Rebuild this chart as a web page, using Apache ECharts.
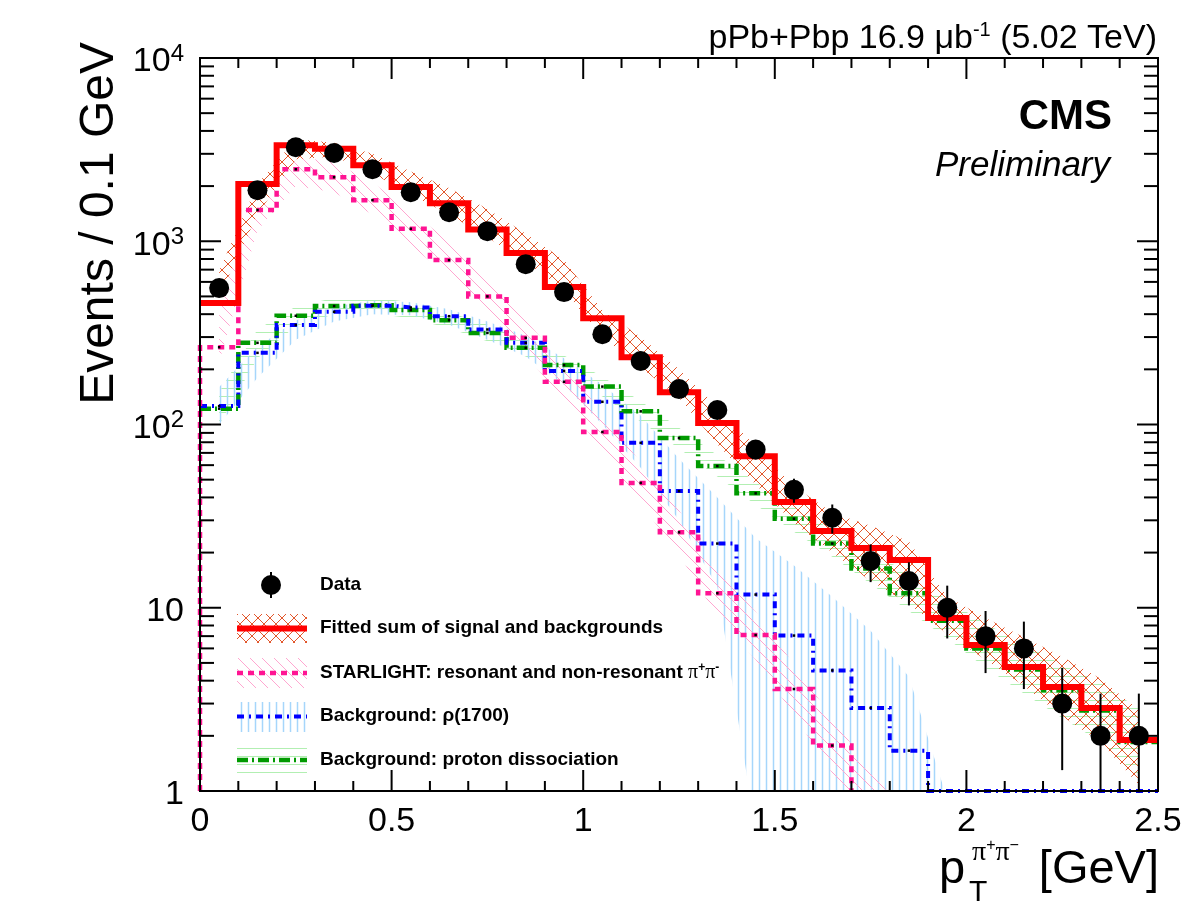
<!DOCTYPE html>
<html>
<head>
<meta charset="utf-8">
<title>pT spectrum of exclusive pi+pi- pairs</title>
<script src="https://cdn.jsdelivr.net/npm/echarts@6.0.0/dist/echarts.min.js"></script>
<style>
  html, body { margin: 0; padding: 0; background: #ffffff; }
  #chart { width: 1201px; height: 921px; }
</style>
</head>
<body>
<div id="chart"></div>
<script>
// ---- Histogram binning: 0.1 GeV bins from 0 to 2.5 GeV ----
const binCenters = [0.05, 0.15, 0.25, 0.35, 0.45, 0.55, 0.65, 0.75, 0.85, 0.95,
                    1.05, 1.15, 1.25, 1.35, 1.45, 1.55, 1.65, 1.75, 1.85, 1.95,
                    2.05, 2.15, 2.25, 2.35, 2.45];
const binWidth = 0.1;

// ---- Data: events per bin and statistical uncertainty ----
const dataCounts = [555, 1900, 3260, 3030, 2470, 1850, 1440, 1135, 750, 528,
                    311, 222, 156, 120, 73, 44, 31, 18, 14, 10,
                    7, 6, 3, 2, 2];
const dataErrors = [23.6, 43.6, 57.1, 55.0, 49.7, 43.0, 37.9, 33.7, 27.4, 23.0,
                    17.6, 14.9, 12.5, 11.0, 8.5, 6.6, 5.6, 4.2, 3.7, 3.2,
                    2.6, 2.4, 1.7, 1.4, 1.4];

// ---- Fitted sum of signal and backgrounds, with uncertainty band ----
const fitSum     = [460, 2050, 3345, 3200, 2600, 1975, 1610, 1160, 862, 563,
                    380, 233, 150, 102, 67, 37.8, 26.2, 21.2, 18.2, 8.8,
                    6.26, 4.75, 3.69, 2.84, 1.9];
const fitSumLow  = [500, 1400, 2800, 2900, 2350, 1800, 1400, 1050, 770, 540,
                    300, 205, 140, 78, 47, 29, 20, 14, 10.5, 7.2,
                    5.2, 3.75, 2.56, 1.85, 1.08];
const fitSumHigh = [690, 2050, 3600, 3450, 3000, 2400, 1950, 1500, 1100, 790,
                    420, 300, 200, 125, 76, 46, 33, 28, 23, 11.5,
                    8.8, 6.9, 5.4, 4.1, 2.77];

// ---- STARLIGHT resonant + non-resonant pi+pi- (0 = empty bin) ----
const starlight     = [264, 1480, 2470, 2235, 1676, 1170, 789, 500, 297, 171,
                       91, 48, 25.8, 12.0, 7.1, 3.6, 1.77, 0, 0, 0,
                       0, 0, 0, 0, 0];
const starlightLow  = [220, 1150, 2000, 1850, 1400, 950, 640, 400, 240, 135,
                       72, 37, 19.5, 9, 5.2, 2.6, 1.25, 0.6, 0.3, 0.15,
                       0.1, 0.05, 0.05, 0.05, 0.05];
const starlightHigh = [450, 1900, 2900, 2700, 2100, 1450, 1000, 620, 370, 215,
                       115, 62, 34, 16, 9.5, 4.9, 2.5, 1.3, 0.7, 0.35,
                       0.2, 0.1, 0.1, 0.1, 0.1];

// ---- Background: rho(1700) ----
const rho1700     = [126, 246, 349, 412, 445, 435, 390, 330, 279, 196,
                     133, 79.4, 43.3, 22.4, 11.8, 7.05, 4.55, 2.84, 1.66, 0.5,
                     0.4, 0.3, 0.2, 0.15, 0.1];
const rho1700Low  = [100, 180, 290, 365, 400, 395, 350, 290, 235, 165,
                     100, 58, 30, 13, 0.6, 0.3, 0.2, 0.15, 0.1, 0.08,
                     0.05, 0.05, 0.05, 0.05, 0.05];
const rho1700High = [160, 265, 370, 440, 475, 465, 425, 365, 305, 230,
                     165, 112, 65, 40, 24, 17, 11.5, 7.5, 4.2, 0.9,
                     0.5, 0.4, 0.3, 0.2, 0.15];

// ---- Background: proton dissociation ----
const protonDiss     = [122, 279, 392, 443, 448, 421, 371, 316, 262, 211,
                        161, 118, 84.4, 59.3, 42.1, 30.6, 22.4, 16.4, 12.0, 8.5,
                        6.0, 4.6, 3.55, 2.75, 1.85];
const protonDissLow  = [100, 230, 345, 400, 405, 380, 335, 285, 235, 188,
                        142, 104, 74, 52, 36.5, 26, 19, 13.5, 9.6, 6.8,
                        4.7, 3.4, 2.5, 1.85, 1.2];
const protonDissHigh = [150, 330, 440, 490, 495, 465, 410, 350, 292, 238,
                        182, 134, 96, 68, 48.5, 35.5, 26.5, 20, 15.5, 11,
                        8.2, 6.3, 4.9, 3.9, 2.8];

// ---- Axis tick labels ----
const xTickLabels = ['0', '0.5', '1', '1.5', '2', '2.5'];
const yDecades = [1, 10, 100, 1000, 10000];

// ---- Frame ----
const xMin = 0, xMax = 2.5, yMin = 1, yMax = 10000;
const FONT = '"Liberation Sans", Arial, Helvetica, sans-serif';
const SERIF = '"Liberation Serif", "DejaVu Serif", serif';

// ---- Fill patterns for the uncertainty bands ----
function makePattern(w, h, draw) {
  const c = document.createElement('canvas');
  c.width = w; c.height = h;
  const g = c.getContext('2d');
  draw(g, w, h);
  return { image: c, repeat: 'repeat' };
}
const crossHatch = makePattern(12, 12, (g, w, h) => {
  g.strokeStyle = '#e2572c'; g.lineWidth = 1;
  g.beginPath();
  g.moveTo(-1, -1); g.lineTo(w + 1, h + 1);
  g.moveTo(w + 1, -1); g.lineTo(-1, h + 1);
  g.stroke();
});
const pinkHatch = makePattern(12, 12, (g, w, h) => {
  g.strokeStyle = '#ffa6d0'; g.lineWidth = 1;
  g.beginPath();
  g.moveTo(-1, -1); g.lineTo(w + 1, h + 1);
  g.moveTo(-1, h - 1); g.lineTo(1, h + 1);
  g.moveTo(w - 1, -1); g.lineTo(w + 1, 1);
  g.stroke();
});
const blueHatch = makePattern(7, 7, (g, w, h) => {
  g.strokeStyle = '#a6d6fb'; g.lineWidth = 1.5;
  g.beginPath(); g.moveTo(3.5, 0); g.lineTo(3.5, h); g.stroke();
});
const greenHatch = makePattern(8, 8, (g, w, h) => {
  g.strokeStyle = '#b2efb2'; g.lineWidth = 1;
  g.beginPath(); g.moveTo(0, 4.5); g.lineTo(w, 4.5); g.stroke();
});

// ---- Step outline of a histogram ----
function stepPoints(values, riseFromFloor, markers) {
  const pts = [];
  let open = false;
  if (riseFromFloor) { pts.push([binCenters[0] - binWidth / 2, yMin]); open = true; }
  values.forEach((v, i) => {
    const lo = +(binCenters[i] - binWidth / 2).toFixed(3);
    const hi = +(binCenters[i] + binWidth / 2).toFixed(3);
    if (!(v > 0)) {
      if (open) { pts.push([lo, yMin]); pts.push([lo, '-']); open = false; }
      return;
    }
    const y = Math.max(v, yMin);
    pts.push({ value: [lo, y] });
    if (markers) pts.push({ value: [binCenters[i], y], symbolSize: 2.5 });
    pts.push({ value: [hi, y] });
    open = true;
  });
  return pts;
}

function histLine(name, values, color, width, dash, riseFromFloor, markers, z) {
  return {
    name, type: 'line', data: stepPoints(values, riseFromFloor, markers),
    symbol: 'rect', symbolSize: 0, showSymbol: true,
    itemStyle: { color: '#000', opacity: 1 },
    lineStyle: { color, width, type: dash, cap: 'butt', join: 'miter', opacity: 1 },
    connectNulls: false, clip: true, silent: true, animation: false, z,
    emphasis: { disabled: true }
  };
}

// ---- Band polygon through the bin centres ----
function band(name, low, high, fill, z) {
  return {
    name, type: 'custom', clip: true, silent: true, animation: false, z,
    data: binCenters.map((x, i) => [x, low[i], high[i]]),
    encode: { x: 0, y: [1, 2] },
    renderItem(params, api) {
      if (params.dataIndex !== 0) return null;
      const upper = binCenters.map((x, i) => api.coord([x, high[i]]));
      const lower = binCenters.map((x, i) => api.coord([x, low[i]])).reverse();
      return { type: 'polygon', shape: { points: upper.concat(lower) },
               style: { fill, stroke: null } };
    }
  };
}

// ---- Frame with inward ticks on all four sides ----
function renderFrame(params, api) {
  if (params.dataIndex !== 0) return null;
  const cs = params.coordSys;
  const left = cs.x, right = cs.x + cs.width, top = cs.y, bottom = cs.y + cs.height;
  const st = { stroke: '#000', lineWidth: 2 };
  const kids = [];
  for (let k = 1; k < 25; k++) {
    const xv = k / 10;
    const len = (k % 5 === 0) ? 21 : 10;
    const x = api.coord([xv, yMin])[0];
    kids.push({ type: 'line', shape: { x1: x, y1: bottom, x2: x, y2: bottom - len }, style: st });
    kids.push({ type: 'line', shape: { x1: x, y1: top, x2: x, y2: top + len }, style: st });
  }
  yDecades.forEach((d) => {
    for (let m = 1; m <= 9; m++) {
      const v = d * m;
      if (v <= yMin || v >= yMax) continue;
      const len = (m === 1) ? 21 : 14;
      const y = api.coord([xMin, v])[1];
      kids.push({ type: 'line', shape: { x1: left, y1: y, x2: left + len, y2: y }, style: st });
      kids.push({ type: 'line', shape: { x1: right, y1: y, x2: right - len, y2: y }, style: st });
    }
  });
  kids.push({ type: 'rect', shape: { x: left, y: top, width: cs.width, height: cs.height },
              style: { fill: null, stroke: '#000', lineWidth: 2 } });
  return { type: 'group', children: kids };
}

const chart = echarts.init(document.getElementById('chart'), null, { renderer: 'canvas' });

const legendText = { fontFamily: FONT, fontSize: 19, fontWeight: 'bold', fill: '#000' };

const option = {
  animation: false,
  backgroundColor: '#ffffff',
  grid: { left: 200, top: 58, width: 958, height: 733, show: false },
  xAxis: {
    type: 'value', min: xMin, max: xMax, interval: 0.5,
    axisLine: { show: false }, axisTick: { show: false }, splitLine: { show: false },
    axisLabel: {
      color: '#000', fontFamily: FONT, fontSize: 34, margin: 14,
      formatter: v => xTickLabels[Math.round(v / 0.5)]
    }
  },
  yAxis: {
    type: 'log', logBase: 10, min: yMin, max: yMax,
    axisLine: { show: false }, axisTick: { show: false }, splitLine: { show: false },
    axisLabel: {
      color: '#000', fontFamily: FONT, fontSize: 34, margin: 16, padding: [8, 0, 0, 0],
      formatter: v => {
        const e = Math.round(Math.log10(v));
        return e <= 1 ? String(Math.round(v)) : '{b|10}{s|' + e + '}';
      },
      rich: {
        b: { fontFamily: FONT, fontSize: 34, lineHeight: 40, color: '#000' },
        s: { fontFamily: FONT, fontSize: 24, lineHeight: 18, verticalAlign: 'top', color: '#000' }
      }
    }
  },
  series: [
    band('Proton dissociation band', protonDissLow, protonDissHigh, greenHatch, 1),
    band('rho(1700) band', rho1700Low, rho1700High, blueHatch, 1),
    band('STARLIGHT band', starlightLow, starlightHigh, pinkHatch, 1),
    band('Fit band', fitSumLow, fitSumHigh, crossHatch, 1),
    histLine('Background: proton dissociation', protonDiss, '#009a00', 4.5, [11, 4, 2, 4], false, true, 3),
    histLine('Background: rho(1700)', rho1700, '#0000ff', 4, [7, 5, 2, 5], false, true, 4),
    histLine('STARLIGHT', starlight, '#ff1493', 4.5, [6, 5], true, true, 5),
    histLine('Fitted sum', fitSum, '#ff0000', 6, 'solid', false, false, 6),
    {
      name: 'Data errors', type: 'custom', clip: true, silent: true, animation: false, z: 7,
      data: binCenters.map((x, i) => [x, dataCounts[i] - dataErrors[i], dataCounts[i] + dataErrors[i]]),
      encode: { x: 0, y: [1, 2] },
      renderItem(params, api) {
        const p1 = api.coord([api.value(0), api.value(1)]);
        const p2 = api.coord([api.value(0), api.value(2)]);
        return { type: 'line', shape: { x1: p1[0], y1: p1[1], x2: p2[0], y2: p2[1] },
                 style: { stroke: '#000', lineWidth: 2 } };
      }
    },
    {
      name: 'Data', type: 'scatter', silent: true, animation: false, z: 8,
      data: binCenters.map((x, i) => [x, dataCounts[i]]),
      symbol: 'circle', symbolSize: 20, itemStyle: { color: '#000', opacity: 1 }
    },
    {
      name: 'Frame', type: 'custom', silent: true, animation: false, z: 10, clip: false,
      data: [[xMin, yMin]], encode: { x: 0, y: 1 },
      renderItem: renderFrame
    }
  ],
  graphic: [
    // header
    { type: 'text', x: 1157, y: 39, z: 20, style: {
        text: '{m|pPb+Pbp 16.9 μb}{s|-1}{m| (5.02 TeV)}', align: 'right', verticalAlign: 'middle',
        rich: {
          m: { fontFamily: FONT, fontSize: 34, lineHeight: 38, fill: '#000', color: '#000' },
          s: { fontFamily: FONT, fontSize: 20, lineHeight: 16, verticalAlign: 'top', fill: '#000', color: '#000' }
        } } },
    { type: 'text', x: 1112, y: 117, z: 20, style: {
        text: 'CMS', fontFamily: FONT, fontSize: 42, fontWeight: 'bold', fill: '#000',
        align: 'right', verticalAlign: 'middle' } },
    { type: 'text', x: 1110, y: 166, z: 20, style: {
        text: 'Preliminary', fontFamily: FONT, fontSize: 35, fontStyle: 'italic', fill: '#000',
        align: 'right', verticalAlign: 'middle' } },
    // y axis title
    { type: 'text', x: 100, y: 42, rotation: Math.PI / 2, z: 20, style: {
        text: 'Events / 0.1 GeV', fontFamily: FONT, fontSize: 48, fill: '#000',
        align: 'right', verticalAlign: 'middle' } },
    // x axis title
    { type: 'text', x: 939, y: 870, z: 20, style: {
        text: 'p', fontFamily: FONT, fontSize: 47, fill: '#000', align: 'left', verticalAlign: 'middle' } },
    { type: 'text', x: 969, y: 893, z: 20, style: {
        text: 'T', fontFamily: FONT, fontSize: 30, fill: '#000', align: 'left', verticalAlign: 'middle' } },
    { type: 'text', x: 972, y: 853, z: 20, style: {
        text: '{p|π}{u|+}{p|π}{u|−}', align: 'left', verticalAlign: 'middle',
        rich: {
          p: { fontFamily: SERIF, fontSize: 28, lineHeight: 30, fill: '#000', color: '#000' },
          u: { fontFamily: FONT, fontSize: 16, lineHeight: 14, verticalAlign: 'top', fill: '#000', color: '#000' }
        } } },
    { type: 'text', x: 1159, y: 870, z: 20, style: {
        text: '[GeV]', fontFamily: FONT, fontSize: 47, fill: '#000', align: 'right', verticalAlign: 'middle' } },

    // legend: data
    { type: 'line', z: 20, shape: { x1: 271, y1: 572, x2: 271, y2: 598 }, style: { stroke: '#000', lineWidth: 2 } },
    { type: 'circle', z: 20, shape: { cx: 271, cy: 585, r: 10 }, style: { fill: '#000' } },
    { type: 'text', x: 320, y: 585, z: 20, style: Object.assign({ text: 'Data', verticalAlign: 'middle' }, legendText) },
    // legend: fitted sum
    { type: 'rect', z: 20, shape: { x: 237, y: 614, width: 70, height: 29 }, style: { fill: crossHatch } },
    { type: 'line', z: 20, shape: { x1: 237, y1: 628.5, x2: 307, y2: 628.5 }, style: { stroke: '#ff0000', lineWidth: 6 } },
    { type: 'text', x: 320, y: 628, z: 20, style: Object.assign({ text: 'Fitted sum of signal and backgrounds', verticalAlign: 'middle' }, legendText) },
    // legend: STARLIGHT
    { type: 'rect', z: 20, shape: { x: 237, y: 658, width: 70, height: 30 }, style: { fill: pinkHatch } },
    { type: 'line', z: 20, shape: { x1: 237, y1: 673, x2: 307, y2: 673 }, style: { stroke: '#ff1493', lineWidth: 4.5, lineDash: [6, 5] } },
    { type: 'text', x: 320, y: 673, z: 20, style: {
        text: '{t|STARLIGHT: resonant and non-resonant }{p|π}{u|+}{p|π}{u|-}', verticalAlign: 'middle',
        rich: {
          t: { fontFamily: FONT, fontSize: 19, fontWeight: 'bold', lineHeight: 22, fill: '#000', color: '#000' },
          p: { fontFamily: SERIF, fontSize: 20, lineHeight: 22, fill: '#000', color: '#000' },
          u: { fontFamily: FONT, fontSize: 12, fontWeight: 'bold', lineHeight: 11, verticalAlign: 'top', fill: '#000', color: '#000' }
        } } },
    // legend: rho(1700)
    { type: 'rect', z: 20, shape: { x: 237, y: 702, width: 70, height: 30 }, style: { fill: blueHatch } },
    { type: 'line', z: 20, shape: { x1: 237, y1: 716.5, x2: 307, y2: 716.5 }, style: { stroke: '#0000ff', lineWidth: 4, lineDash: [7, 5, 2, 5] } },
    { type: 'text', x: 320, y: 716, z: 20, style: Object.assign({ text: 'Background: ρ(1700)', verticalAlign: 'middle' }, legendText) },
    // legend: proton dissociation
    { type: 'rect', z: 20, shape: { x: 237, y: 747, width: 70, height: 27 }, style: { fill: greenHatch } },
    { type: 'line', z: 20, shape: { x1: 237, y1: 760, x2: 307, y2: 760 }, style: { stroke: '#009a00', lineWidth: 4.5, lineDash: [11, 4, 2, 4] } },
    { type: 'text', x: 320, y: 760, z: 20, style: Object.assign({ text: 'Background: proton dissociation', verticalAlign: 'middle' }, legendText) }
  ]
};

chart.setOption(option);
</script>
</body>
</html>
